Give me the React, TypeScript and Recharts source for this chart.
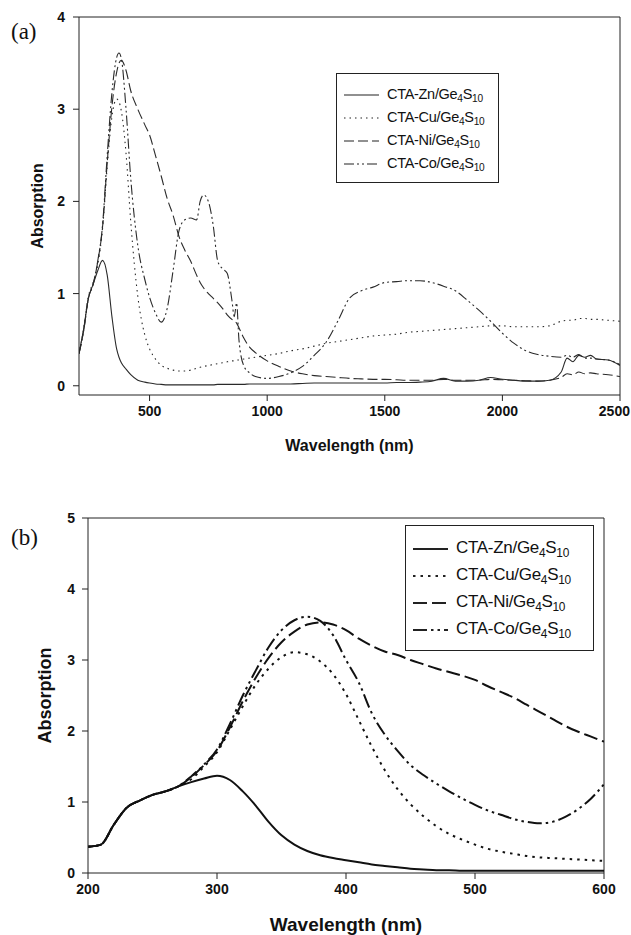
import React from 'react';
import { LineChart, Line, XAxis, YAxis, Legend, ReferenceLine } from 'recharts';

// ---- panel (a): 200-2500 nm ----
const topWavelength = [
  200, 220, 240, 260, 280, 300, 320, 340, 360, 370, 380, 400, 420, 450, 480, 500, 525, 550, 575, 600,
  625, 650, 675, 700, 715, 730, 750, 770, 790, 810, 830, 850, 860, 870, 880, 900, 925, 950, 1000, 1050,
  1100, 1150, 1200, 1250, 1300, 1350, 1400, 1450, 1500, 1550, 1600, 1650, 1700, 1750, 1800, 1850, 1900, 1950, 2000, 2050,
  2100, 2150, 2200, 2250, 2275, 2300, 2325, 2350, 2375, 2400, 2450, 2500,
];
const topZn = [
  0.35, 0.62, 0.95, 1.1, 1.25, 1.36, 1.2, 0.75, 0.4, 0.31, 0.25, 0.18, 0.12, 0.06, 0.04, 0.03, 0.02, 0.015, 0.01, 0.01,
  0.01, 0.01, 0.01, 0.01, 0.01, 0.01, 0.01, 0.01, 0.015, 0.015, 0.015, 0.015, 0.015, 0.015, 0.015, 0.015, 0.02, 0.02, 0.02, 0.02,
  0.02, 0.025, 0.03, 0.03, 0.03, 0.03, 0.03, 0.03, 0.03, 0.035, 0.035, 0.04, 0.05, 0.08, 0.05, 0.05, 0.06, 0.09, 0.07, 0.06,
  0.05, 0.05, 0.06, 0.15, 0.3, 0.26, 0.33, 0.31, 0.33, 0.29, 0.28, 0.22,
];
const topCu = [
  0.35, 0.62, 0.97, 1.12, 1.32, 1.7, 2.38, 2.92, 3.11, 3.08, 2.98, 2.52, 1.78, 0.97, 0.55, 0.4, 0.29, 0.22, 0.19, 0.17,
  0.16, 0.16, 0.17, 0.19, 0.2, 0.21, 0.22, 0.23, 0.24, 0.25, 0.26, 0.27, 0.27, 0.28, 0.28, 0.29, 0.3, 0.31, 0.33, 0.35,
  0.38, 0.4, 0.43, 0.46, 0.48, 0.5, 0.52, 0.54, 0.55, 0.56, 0.58, 0.59, 0.6, 0.61, 0.62, 0.63, 0.64, 0.65, 0.65, 0.64,
  0.64, 0.64, 0.65, 0.7, 0.71, 0.71, 0.73, 0.73, 0.72, 0.72, 0.71, 0.7,
];
const topNi = [
  0.35, 0.6, 0.95, 1.1, 1.35, 1.72, 2.42, 3.03, 3.4, 3.5, 3.53, 3.42, 3.2, 3.0, 2.83, 2.72, 2.5, 2.27, 2.03, 1.85,
  1.62, 1.47, 1.35, 1.2, 1.12, 1.06, 1.0, 0.95, 0.9, 0.84, 0.77, 0.72, 0.7, 0.68, 0.63, 0.52, 0.42, 0.36, 0.27, 0.21,
  0.16, 0.13, 0.11, 0.1, 0.09, 0.08, 0.075, 0.07, 0.07, 0.065, 0.06, 0.06, 0.06, 0.07, 0.06, 0.06, 0.06, 0.07, 0.065, 0.06,
  0.055, 0.05, 0.06, 0.09, 0.13, 0.12, 0.15, 0.13, 0.14, 0.13, 0.12, 0.1,
];
const topCo = [
  0.35, 0.6, 0.95, 1.1, 1.36, 1.74, 2.5, 3.18, 3.56, 3.61, 3.55, 3.0, 2.25, 1.52, 1.15, 0.96, 0.79, 0.69, 0.84, 1.25,
  1.68, 1.8, 1.82, 1.8, 2.0, 2.07, 2.0, 1.75, 1.35, 1.27, 1.22, 0.93, 0.75, 0.9, 0.5, 0.22, 0.14, 0.1, 0.08, 0.1,
  0.14, 0.21, 0.33, 0.47, 0.7, 0.95, 1.03, 1.07, 1.12, 1.13, 1.14, 1.14, 1.12, 1.08, 1.03, 0.93, 0.82, 0.7, 0.57, 0.46,
  0.38, 0.34, 0.32, 0.31, 0.33, 0.31, 0.34, 0.3, 0.3, 0.29, 0.28, 0.23,
];

// ---- panel (b): 200-600 nm ----
const bottomWavelength = [
  200, 210, 220, 230, 240, 250, 260, 270, 280, 290, 300, 310, 320, 330, 340, 350, 360, 370, 380, 390, 400,
  410, 420, 430, 440, 450, 460, 470, 480, 490, 500, 510, 520, 530, 540, 550, 560, 570, 580, 590, 600,
];
const bottomZn = [
  0.37, 0.4, 0.68, 0.92, 1.02, 1.1, 1.15, 1.22, 1.28, 1.33, 1.37, 1.31, 1.15, 0.95, 0.72, 0.53, 0.4, 0.31, 0.25, 0.21, 0.18,
  0.15, 0.12, 0.1, 0.08, 0.06, 0.05, 0.04, 0.04, 0.03, 0.03, 0.03, 0.03, 0.03, 0.03, 0.03, 0.03, 0.03, 0.03, 0.03, 0.03,
];
const bottomCu = [
  0.37, 0.4, 0.68, 0.92, 1.02, 1.1, 1.15, 1.22, 1.32, 1.5, 1.7, 2.02, 2.35, 2.65, 2.88, 3.04, 3.11, 3.08, 2.98, 2.8, 2.52,
  2.15, 1.78, 1.45, 1.18, 0.97, 0.8, 0.66, 0.55, 0.47, 0.4, 0.34, 0.3, 0.27, 0.24, 0.22, 0.21, 0.2, 0.19, 0.18, 0.17,
];
const bottomNi = [
  0.37, 0.4, 0.68, 0.92, 1.02, 1.1, 1.15, 1.22, 1.35, 1.52, 1.72, 2.05, 2.42, 2.75, 3.03, 3.25, 3.4, 3.5, 3.53, 3.5, 3.42,
  3.3, 3.2, 3.12, 3.07, 3.0, 2.94, 2.88, 2.83, 2.78, 2.72, 2.63, 2.55, 2.47, 2.37, 2.27, 2.17, 2.07, 1.99, 1.92, 1.85,
];
const bottomCo = [
  0.37, 0.4, 0.68, 0.92, 1.02, 1.1, 1.15, 1.22, 1.36, 1.53, 1.74, 2.1, 2.5, 2.85, 3.18, 3.42, 3.56, 3.61, 3.55, 3.35, 3.0,
  2.68, 2.25, 1.95, 1.72, 1.52, 1.38, 1.26, 1.15, 1.05, 0.96, 0.88, 0.82, 0.76, 0.72, 0.7, 0.72, 0.79, 0.9, 1.05, 1.25,
];

const seriesNames = ['CTA-Zn', 'CTA-Cu', 'CTA-Ni', 'CTA-Co'];
const topTicksX = [500, 1000, 1500, 2000, 2500];
const topTicksY = [0, 1, 2, 3, 4];
const bottomTicksX = [200, 300, 400, 500, 600];
const bottomTicksY = [0, 1, 2, 3, 4, 5];

const toPoints = (xs: number[], ys: number[]) => xs.map((wl, i) => ({ wl, abs: ys[i] }));

const FONT = '"Liberation Sans", Arial, Helvetica, sans-serif';
const INK = '#111';

type LegendBoxProps = { dashes: (string | undefined)[]; fontSize: number; rowHeight: number; strokeWidth: number; padTop: number };

const LegendBox = ({ dashes, fontSize, rowHeight, strokeWidth, padTop }: LegendBoxProps) => (
  <div
    style={{
      boxSizing: 'border-box',
      width: '100%',
      height: '100%',
      border: '1.5px solid #222',
      background: '#fff',
      paddingTop: padTop,
      paddingLeft: 7,
      fontFamily: FONT,
      fontSize,
      color: INK,
      letterSpacing: -0.3,
    }}
  >
    {seriesNames.map((name, i) => (
      <div key={name} style={{ display: 'flex', alignItems: 'center', height: rowHeight, lineHeight: `${rowHeight}px` }}>
        <svg width={35} height={10} style={{ flex: 'none' }}>
          <line x1={0} y1={5} x2={35} y2={5} stroke="#222" strokeWidth={strokeWidth} strokeDasharray={dashes[i]} />
        </svg>
        <span style={{ marginLeft: 8, whiteSpace: 'nowrap' }}>
          {name}/Ge<span style={{ fontSize: '0.7em', position: 'relative', top: '0.35em' }}>4</span>S
          <span style={{ fontSize: '0.7em', position: 'relative', top: '0.35em' }}>10</span>
        </span>
      </div>
    ))}
  </div>
);

const xTitle = (dy: number, size: number) => (props: any) => {
  const vb = props.viewBox;
  return (
    <text x={vb.x + vb.width / 2} y={vb.y + dy} textAnchor="middle" dominantBaseline="central" fontFamily={FONT} fontWeight={700} fontSize={size} fill={INK}>
      Wavelength (nm)
    </text>
  );
};

const yTitle = (dx: number, size: number) => (props: any) => {
  const vb = props.viewBox;
  const cx = vb.x + dx;
  const cy = vb.y + vb.height / 2;
  return (
    <text x={cx} y={cy} transform={`rotate(-90 ${cx} ${cy})`} textAnchor="middle" dominantBaseline="central" fontFamily={FONT} fontWeight={700} fontSize={size} fill={INK}>
      Absorption
    </text>
  );
};

const tickStyle = { fontSize: 14, fontWeight: 700, fill: INK, fontFamily: FONT };

// x tick that keeps the last label inside the page edge
const EdgeTick = (maxX: number) => (props: any) => {
  const { x, y, payload } = props;
  const label = String(payload.value);
  const half = label.length * 3.9;
  const cx = Math.min(x, maxX - half);
  return (
    <text x={cx} y={y} dy="0.71em" textAnchor="middle" {...tickStyle}>
      {label}
    </text>
  );
};

const panelLabel: React.CSSProperties = { position: 'absolute', fontFamily: '"Liberation Serif", "Times New Roman", serif', fontSize: 23, color: INK };

export default function App() {
  const topDash = [undefined, '1.5 4', '10 4', '10 3 2 3 2 3'];
  const bottomDash = [undefined, '2.5 5', '14 5', '14 4 2.5 4 2.5 4'];
  const topSeries = [topZn, topCu, topNi, topCo];
  const bottomSeries = [bottomZn, bottomCu, bottomNi, bottomCo];

  return (
    <div style={{ position: 'absolute', left: 0, top: 0, width: 631, height: 935, background: '#fff', overflow: 'hidden' }}>
      <div style={{ ...panelLabel, left: 11, top: 19 }}>(a)</div>
      <div style={{ ...panelLabel, left: 11, top: 525 }}>(b)</div>

      <div style={{ position: 'absolute', left: 0, top: 0 }}>
        <LineChart width={631} height={460} margin={{ top: 17, right: 11, bottom: 0, left: 0 }}>
          <XAxis
            type="number"
            dataKey="wl"
            domain={[200, 2500]}
            ticks={topTicksX}
            allowDataOverflow
            height={65}
            tickSize={6}
            tickMargin={5}
            tick={EdgeTick(630)}
            stroke="#222"
            label={{ content: xTitle(50, 16) }}
          />
          <YAxis
            type="number"
            domain={[-0.1, 4]}
            ticks={topTicksY}
            allowDataOverflow
            width={79}
            tickSize={6}
            tickMargin={8}
            tick={tickStyle}
            stroke="#222"
            label={{ content: yTitle(37, 16) }}
          />
          <ReferenceLine y={4} stroke="#222" />
          <ReferenceLine x={2500} stroke="#222" />
          {topSeries.map((s, i) => (
            <Line
              key={seriesNames[i]}
              data={toPoints(topWavelength, s)}
              dataKey="abs"
              name={seriesNames[i]}
              type="monotone"
              stroke="#2a2a2a"
              strokeWidth={1.1}
              strokeDasharray={topDash[i]}
              dot={false}
              isAnimationActive={false}
            />
          ))}
          <Legend
            layout="vertical"
            align="center"
            verticalAlign="middle"
            wrapperStyle={{ left: 336, top: 73, width: 163, height: 110 }}
            content={() => <LegendBox dashes={topDash} fontSize={14.5} rowHeight={23} strokeWidth={1.1} padTop={9} />}
          />
        </LineChart>
      </div>

      <div style={{ position: 'absolute', left: 0, top: 460 }}>
        <LineChart width={631} height={475} margin={{ top: 58, right: 27, bottom: 0, left: 0 }}>
          <XAxis
            type="number"
            dataKey="wl"
            domain={[200, 600]}
            ticks={bottomTicksX}
            allowDataOverflow
            height={62}
            tickSize={6}
            tickMargin={5}
            tick={EdgeTick(630)}
            stroke="#222"
            label={{ content: xTitle(51, 19) }}
          />
          <YAxis
            type="number"
            domain={[0, 5]}
            ticks={bottomTicksY}
            allowDataOverflow
            width={88}
            tickSize={6}
            tickMargin={7}
            tick={tickStyle}
            stroke="#222"
            label={{ content: yTitle(45, 18) }}
          />
          <ReferenceLine y={5} stroke="#222" />
          <ReferenceLine x={600} stroke="#222" />
          {bottomSeries.map((s, i) => (
            <Line
              key={seriesNames[i]}
              data={toPoints(bottomWavelength, s)}
              dataKey="abs"
              name={seriesNames[i]}
              type="monotone"
              stroke="#111"
              strokeWidth={2}
              strokeDasharray={bottomDash[i]}
              dot={false}
              isAnimationActive={false}
            />
          ))}
          <Legend
            layout="vertical"
            align="center"
            verticalAlign="middle"
            wrapperStyle={{ left: 405, top: 65, width: 189, height: 126 }}
            content={() => <LegendBox dashes={bottomDash} fontSize={17} rowHeight={27} strokeWidth={2} padTop={9} />}
          />
        </LineChart>
      </div>
    </div>
  );
}
